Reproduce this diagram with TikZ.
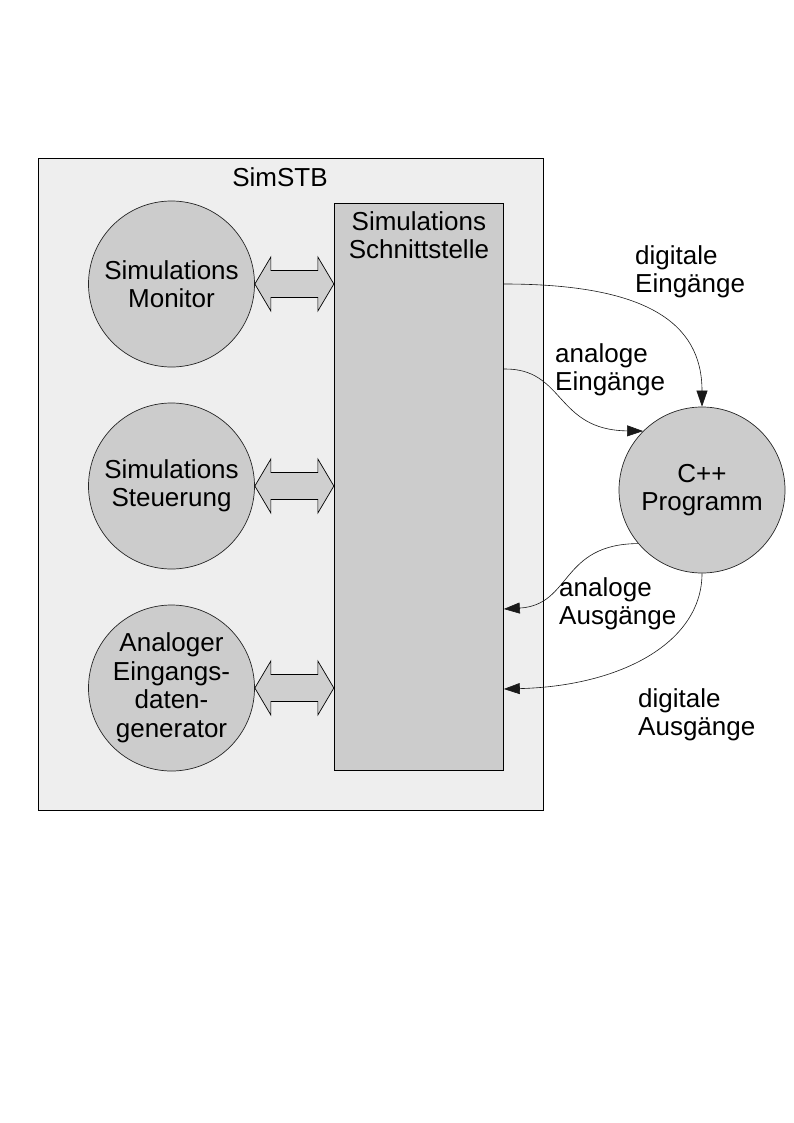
\documentclass[tikz,border=0pt]{standalone}
\usepackage{fontspec}
\setmainfont{Liberation Sans}
\usetikzlibrary{arrows.meta,calc}
\definecolor{boxgray}{HTML}{EEEEEE}
\definecolor{shapegray}{HTML}{CCCCCC}
\definecolor{arrgray}{HTML}{CFCFCF}
\tikzset{
  txt/.style={font=\fontsize{26}{28.5}\selectfont},
  roundbox/.style={circle, draw=black!85, line width=0.7pt, fill=shapegray, minimum size=166pt, inner sep=0pt, align=center, txt},
  blockarrow/.style={draw=black, line width=0.7pt, fill=arrgray, line join=miter},
  flow/.style={draw=black!90, line width=0.6pt, -{Triangle[length=16pt,width=11pt]}},
  lbl/.style={txt, anchor=north west, inner sep=0pt, align=left},
}
\begin{document}
\begin{tikzpicture}[x=1pt,y=-1pt]
\useasboundingbox (0,0) rectangle (794,1123);
% outer box
\node[draw=black, line width=0.8pt, fill=boxgray, minimum width=505pt, minimum height=652pt, anchor=north west, inner sep=0pt] (sim) at (38,158) {};
\node[txt, anchor=base, inner sep=0pt] (simlabel) at (280,187) {SimSTB};
% interface
\node[draw=black, line width=0.8pt, fill=shapegray, minimum width=169pt, minimum height=567pt, anchor=north west, inner sep=0pt] (schnitt) at (334,203) {};
\node[txt, anchor=north, inner sep=0pt, align=center] (schnittlabel) at ($(schnitt.north)+(0,8)$) {Simulations\\Schnittstelle};
% circles
\node[roundbox] (mon) at (171.5,284) {Simulations\\Monitor};
\node[roundbox] (steu) at (171.5,486) {Simulations\\Steuerung};
\node[roundbox] (gen) at (171.5,688) {Analoger\\Eingangs-\\daten-\\generator};
\node[roundbox] (cpp) at (702,490) {C++\\Programm};
% block double arrows
\foreach \n in {mon,steu,gen}{
  \draw[blockarrow] (\n.east) -- ++(16,-27) -- ++(0,13.5) -- ++(47,0) -- ++(0,-13.5) -- ++(16,27)
     -- ++(-16,27) -- ++(0,-13.5) -- ++(-47,0) -- ++(0,13.5) -- cycle;
}
% flows
\coordinate (deIn) at ($(schnitt.north east)+(0,81)$);
\coordinate (aeIn) at ($(schnitt.north east)+(0,166)$);
\coordinate (aaOut) at ($(schnitt.north east)+(0,406)$);
\coordinate (daOut) at ($(schnitt.north east)+(0,486)$);
\draw[flow] (deIn) .. controls (645,284) and (702,322) .. (cpp.north);
\draw[flow] (aeIn) .. controls (565,368) and (555,430) .. (cpp.135);
\draw[flow] (cpp.220) .. controls (560,544) and (572,605) .. (aaOut);
\draw[flow] (cpp.south) .. controls (702,642) and (622,686) .. (daOut);
% labels
\node[lbl] (l1) at (635,245) {digitale\\Eingänge};
\node[lbl] (l2) at (555,343) {analoge\\Eingänge};
\node[lbl] (l3) at (559,577) {analoge\\Ausgänge};
\node[lbl] (l4) at (638,688) {digitale\\Ausgänge};
\end{tikzpicture}
\end{document}
